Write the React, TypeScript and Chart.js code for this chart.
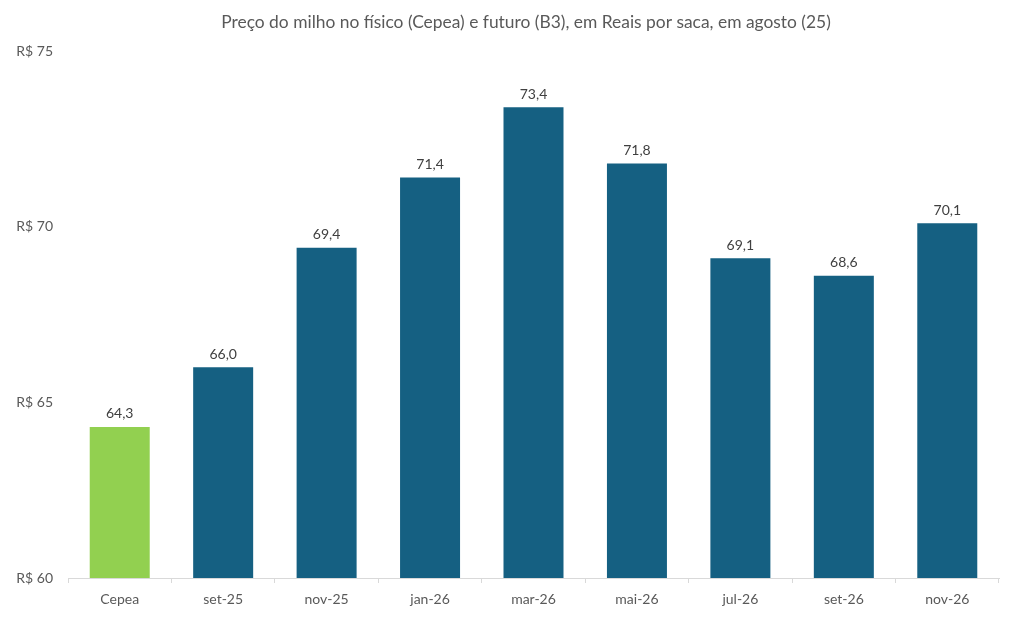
import React, { useEffect, useRef } from "react";
import { Chart, registerables } from "chart.js";

Chart.register(...registerables);

const categories = ["Cepea", "set-25", "nov-25", "jan-26", "mar-26", "mai-26", "jul-26", "set-26", "nov-26"];
const values = [64.3, 66.0, 69.4, 71.4, 73.4, 71.8, 69.1, 68.6, 70.1];
const barColors = ["#92D050", "#156082", "#156082", "#156082", "#156082", "#156082", "#156082", "#156082", "#156082"];
const titleText = "Preço do milho no físico (Cepea) e futuro (B3), em Reais por saca, em agosto (25)";
const yMin = 60;
const yMax = 75;
const yStep = 5;

const FONT = "Lato, 'Liberation Sans', sans-serif";

const fmt = (v: number) => v.toFixed(1).replace(".", ",");

const labelPlugin = {
  id: "valueLabels",
  afterDatasetsDraw(chart: any) {
    const ctx = chart.ctx;
    const meta = chart.getDatasetMeta(0);
    ctx.save();
    ctx.font = `14px ${FONT}`;
    ctx.fillStyle = "#404040";
    ctx.textAlign = "center";
    ctx.textBaseline = "bottom";
    meta.data.forEach((bar: any, i: number) => {
      ctx.fillText(fmt(values[i]), bar.x, bar.y - 6);
    });
    ctx.restore();
  },
};

const titlePlugin = {
  id: "customTitle",
  afterDraw(chart: any) {
    const ctx = chart.ctx;
    ctx.save();
    ctx.font = `17.4px ${FONT}`;
    ctx.fillStyle = "#595959";
    ctx.textAlign = "center";
    ctx.textBaseline = "middle";
    ctx.fillText(titleText, 526, 22);
    ctx.restore();
  },
};

export default function App() {
  const ref = useRef<HTMLCanvasElement | null>(null);
  useEffect(() => {
    if (!ref.current) return;
    const chart = new Chart(ref.current, {
      type: "bar",
      data: {
        labels: categories,
        datasets: [
          {
            data: values,
            backgroundColor: barColors,
            categoryPercentage: 1,
            barPercentage: 0.58,
          },
        ],
      },
      plugins: [labelPlugin, titlePlugin],
      options: {
        animation: false,
        responsive: true,
        maintainAspectRatio: false,
        layout: { padding: { top: 51, right: 12, left: 0, bottom: 0 } },
        plugins: {
          legend: { display: false },
          tooltip: { enabled: false },
          title: { display: false },
        },
        scales: {
          x: {
            grid: {
              display: true,
              drawOnChartArea: false,
              drawTicks: true,
              tickLength: 5,
              color: "#D9D9D9",
            },
            border: { display: true, color: "#D9D9D9", width: 1 },
            ticks: {
              color: "#595959",
              font: { family: FONT, size: 14 },
              padding: 8,
            },
            afterFit(scale: any) {
              scale.height = 51;
            },
          },
          y: {
            min: yMin,
            max: yMax,
            grid: { display: false, drawTicks: false },
            border: { display: false },
            ticks: {
              stepSize: yStep,
              color: "#595959",
              font: { family: FONT, size: 14 },
              padding: 15,
              callback: (v: any) => "R$ " + v,
            },
            afterFit(scale: any) {
              scale.width = 68;
            },
          },
        },
      },
    });
    return () => chart.destroy();
  }, []);
  return (
    <div style={{ position: "absolute", left: 0, top: 0, width: 1011, height: 629, background: "#fff" }}>
      <canvas ref={ref} />
    </div>
  );
}
